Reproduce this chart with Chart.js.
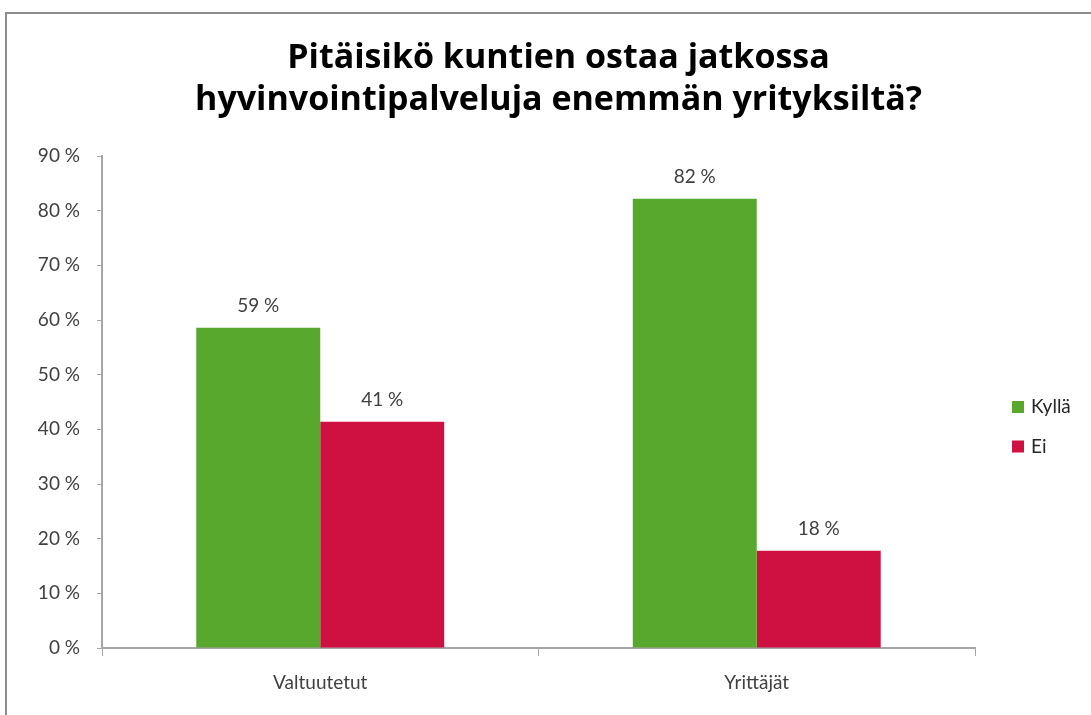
<!DOCTYPE html>
<html>
<head>
<meta charset="utf-8">
<script src="https://cdn.jsdelivr.net/npm/chart.js@4/dist/chart.umd.min.js"></script>
<style>
  html, body { margin: 0; padding: 0; background: #fff; overflow: hidden; }
  #wrap { position: relative; width: 1091px; height: 715px; overflow: hidden; }
  #frame { position: absolute; left: 5px; top: 12px; width: 1100px; height: 720px; border: 2px solid #8c8c8c; box-sizing: border-box; pointer-events: none; }
  #title { position: absolute; left: 0; top: 34px; width: 1117px; text-align: center; font-family: "Open Sans", sans-serif; font-weight: bold; font-size: 34px; line-height: 42px; color: #000; white-space: nowrap; }
  canvas { position: absolute; left: 0; top: 0; }
</style>
</head>
<body>
<div id="wrap">
  <canvas id="c" width="1091" height="715"></canvas>
  <div id="title"></div>
  <div id="frame"></div>
</div>
<script>
const titleLines = ['Pitäisikö kuntien ostaa jatkossa', 'hyvinvointipalveluja enemmän yrityksiltä?'];
const categories = ['Valtuutetut', 'Yrittäjät'];
const seriesNames = ['Kyllä', 'Ei'];
const kyllaValues = [58.6, 82.2];
const eiValues = [41.4, 17.8];
const yTickMin = 0;
const yTickMax = 90;
const yTickStep = 10;

const titleEl = document.getElementById('title');
titleLines.forEach((t, i) => {
  if (i) titleEl.appendChild(document.createElement('br'));
  titleEl.appendChild(document.createTextNode(t));
});

const FONT = 'Lato, "Open Sans", sans-serif';
const GREEN = '#58A82E';
const RED = '#CE1141';
const AXIS = '#a6a6a6';
const TEXT = '#404040';

const dataLabels = {
  id: 'dataLabels',
  afterDatasetsDraw(chart) {
    const ctx = chart.ctx;
    ctx.save();
    ctx.font = '19px ' + FONT;
    ctx.fillStyle = TEXT;
    ctx.textAlign = 'center';
    ctx.textBaseline = 'alphabetic';
    chart.data.datasets.forEach((ds, i) => {
      chart.getDatasetMeta(i).data.forEach((bar, j) => {
        ctx.fillText(Math.round(ds.data[j]) + ' %', bar.x, bar.y - 16);
      });
    });
    ctx.restore();
  }
};

const sideLegend = {
  id: 'sideLegend',
  afterDraw(chart) {
    const ctx = chart.ctx;
    ctx.save();
    ctx.font = '19px ' + FONT;
    ctx.textAlign = 'left';
    ctx.textBaseline = 'middle';
    chart.data.datasets.forEach((ds, i) => {
      const y = 407 + i * 39.5;
      ctx.fillStyle = ds.backgroundColor;
      ctx.fillRect(1012, y - 6, 12, 12);
      ctx.fillStyle = '#262626';
      ctx.fillText(ds.label, 1031, y);
    });
    ctx.restore();
  }
};

new Chart(document.getElementById('c'), {
  type: 'bar',
  data: {
    labels: categories,
    datasets: [
      { label: seriesNames[0], data: kyllaValues, backgroundColor: GREEN },
      { label: seriesNames[1], data: eiValues, backgroundColor: RED }
    ]
  },
  options: {
    responsive: false,
    animation: false,
    devicePixelRatio: 1,
    layout: { padding: { left: 0, right: 116, top: 156, bottom: 0 } },
    datasets: { bar: { categoryPercentage: 0.568, barPercentage: 1.0 } },
    plugins: {
      legend: { display: false },
      tooltip: { enabled: false },
      title: { display: false }
    },
    scales: {
      x: {
        afterFit(s) { s.height = 67; },
        grid: { display: true, drawOnChartArea: false, drawTicks: true, tickLength: 8, color: AXIS, offset: true },
        border: { display: true, color: AXIS, width: 2 },
        ticks: { color: TEXT, font: { family: FONT, size: 19 }, padding: 15 }
      },
      y: {
        min: yTickMin,
        max: yTickMax,
        afterFit(s) { s.width = 102; },
        grid: { display: true, drawOnChartArea: false, drawTicks: true, tickLength: 5, color: AXIS },
        border: { display: true, color: AXIS, width: 2 },
        ticks: {
          stepSize: yTickStep,
          color: TEXT,
          font: { family: FONT, size: 19 },
          padding: 17,
          callback: v => v + ' %'
        }
      }
    }
  },
  plugins: [dataLabels, sideLegend]
});
</script>
</body>
</html>
